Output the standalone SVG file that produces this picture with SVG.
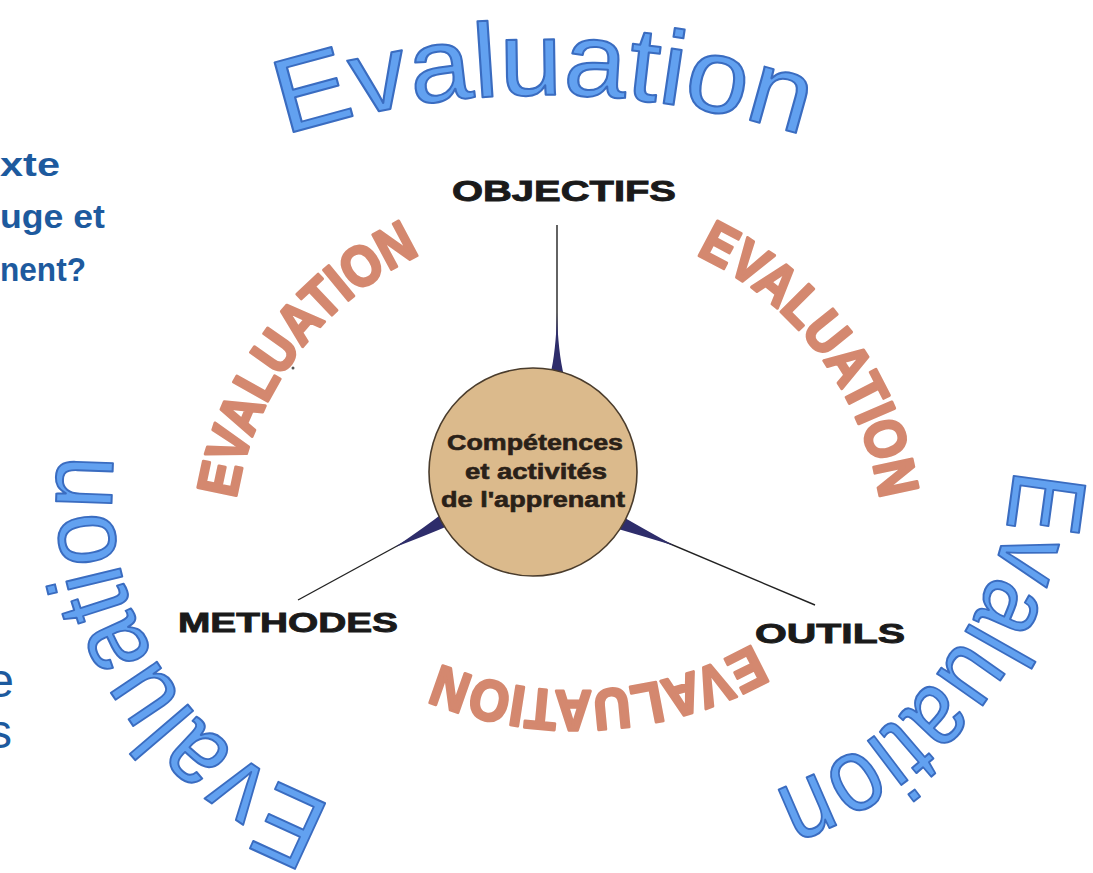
<svg xmlns="http://www.w3.org/2000/svg" width="1093" height="873" viewBox="0 0 1093 873">
<style>
.blue{font-family:"Liberation Sans",Arial,sans-serif;font-size:105px;fill:#62a1f0;stroke:#3a6cc0;stroke-width:2;stroke-linejoin:round;}
.pink{font-family:"Liberation Sans",Arial,sans-serif;font-weight:bold;font-size:57px;fill:#d4886f;stroke:#d4886f;stroke-width:3;stroke-linejoin:round;}
.lbl{font-family:"Liberation Sans",Arial,sans-serif;font-weight:bold;fill:#1a1a1a;stroke:#1a1a1a;stroke-width:0.9;}
.ctr{font-family:"Liberation Sans",Arial,sans-serif;font-weight:bold;font-size:22px;fill:#2a2118;stroke:#2a2118;stroke-width:0.6;text-anchor:middle;}
.side{font-family:"Liberation Sans",Arial,sans-serif;fill:#1d5a9e;}
.line{stroke:#222;stroke-width:1.4;fill:none;}
.spike{fill:#2e2d6b;}
</style>
<defs>
<path id="pTop" d="M285,135.4 A850,850 0 0 1 803,135.4"/>
<path id="pRight" d="M1013.5,468.3 A362,362 0 0 1 772.8,791.2"/>
<path id="pLeft" d="M332.7,805 A328,328 0 0 1 114.2,457.3"/>
<path id="qLeft" d="M236,499 A326,326 0 0 1 420.2,254.5"/>
<path id="qRight" d="M695.8,254.5 A326,326 0 0 1 880,499"/>
<path id="qBottom" d="M753.2,644.3 A360,360 0 0 1 439.4,664.1"/>
</defs>
<rect width="1093" height="873" fill="#ffffff"/>

<g id="side-text">
<text class="side" font-weight="bold" font-size="33" x="0" y="176" textLength="60" lengthAdjust="spacingAndGlyphs">xte</text>
<text class="side" font-weight="bold" font-size="33" x="0" y="228" textLength="105" lengthAdjust="spacingAndGlyphs">uge et</text>
<text class="side" font-weight="bold" font-size="33" x="0" y="281" textLength="86" lengthAdjust="spacingAndGlyphs">nent?</text>
<text class="side" font-size="48" x="14" y="697" text-anchor="end">e</text>
<text class="side" font-size="48" x="12" y="748" text-anchor="end">s</text>
</g>

<g id="outer-evaluation">
<text class="blue" font-size="118"><textPath href="#pTop" textLength="526" lengthAdjust="spacingAndGlyphs">Evaluation</textPath></text>
<text class="blue"><textPath href="#pRight" textLength="427" lengthAdjust="spacingAndGlyphs">Evaluation</textPath></text>
<text class="blue"><textPath href="#pLeft" textLength="444" lengthAdjust="spacingAndGlyphs">Evaluation</textPath></text>
</g>

<g id="inner-evaluation">
<text class="pink"><textPath href="#qLeft" textLength="319" lengthAdjust="spacingAndGlyphs">EVALUATION</textPath></text>
<text class="pink"><textPath href="#qRight" textLength="319" lengthAdjust="spacingAndGlyphs">EVALUATION</textPath></text>
<text class="pink" font-size="54"><textPath href="#qBottom" textLength="325" lengthAdjust="spacingAndGlyphs">EVALUATION</textPath></text>
<circle cx="293" cy="368" r="1.5" fill="#555"/>
</g>

<g id="connectors">
<line class="line" x1="557" y1="225" x2="557" y2="372"/>
<path class="spike" d="M557,313 Q556,352 550,376 L564,376 Q558,352 557,313 Z"/>
<line class="line" x1="298" y1="600" x2="441" y2="522"/>
<path class="spike" d="M395.4,546.9 Q425,527 443.0,513.0 L449.6,525.2 Q427,535 395.4,546.9 Z"/>
<line class="line" x1="623" y1="524" x2="815" y2="605"/>
<path class="spike" d="M673.7,545.4 Q642,528 620.2,515.3 L614.8,528.1 Q645,537 673.7,545.4 Z"/>
</g>

<g id="node-center">
<circle cx="533" cy="472" r="104" fill="#dbba8c" stroke="#4a3c2c" stroke-width="1.6"/>
<text class="ctr" x="535" y="450" textLength="176" lengthAdjust="spacingAndGlyphs">Compétences</text>
<text class="ctr" x="536" y="479" textLength="142" lengthAdjust="spacingAndGlyphs">et activités</text>
<text class="ctr" x="533" y="507" textLength="184" lengthAdjust="spacingAndGlyphs">de l'apprenant</text>
</g>

<g id="node-objectifs">
<text class="lbl" font-size="30" x="452" y="201" textLength="224" lengthAdjust="spacingAndGlyphs">OBJECTIFS</text>
</g>
<g id="node-methodes">
<text class="lbl" font-size="28" x="178" y="632" textLength="220" lengthAdjust="spacingAndGlyphs">METHODES</text>
</g>
<g id="node-outils">
<text class="lbl" font-size="28" x="755" y="643" textLength="150" lengthAdjust="spacingAndGlyphs">OUTILS</text>
</g>
</svg>
